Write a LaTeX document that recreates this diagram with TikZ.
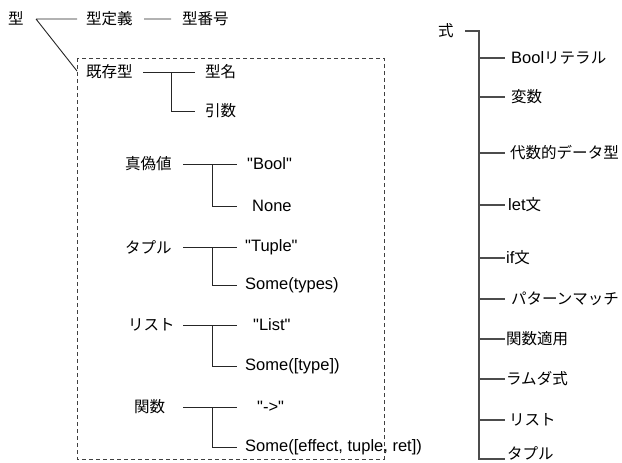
\documentclass[tikz,border=0pt]{standalone}
\usepackage{fontspec}
\setmainfont{Liberation Sans}
\newfontfamily\jp{Noto Sans CJK JP}[Scale=0.94]
\newcommand{\qq}{\textquotedbl}
\begin{document}
\begin{tikzpicture}[x=1pt,y=-1pt,
  lbl/.style={anchor=west,inner sep=0pt,font=\fontsize{16.5}{19}\selectfont},
  ln/.style={line width=0.9pt,draw=black!85},
  rln/.style={line width=1.3pt,draw=black!70},
  dbox/.style={line width=1pt,draw=black!75,dash pattern=on 4pt off 3pt}]
\useasboundingbox (0,0) rectangle (622,463);
% left: type tree
\node[lbl] (kata) at (8,18) {\jp 型};
\node[lbl] (teigi) at (86,19) {\jp 型定義};
\node[lbl] (bango) at (182,19) {\jp 型番号};
\node[lbl] (kiso) at (86,72) {\jp 既存型};
\node[lbl] (mei) at (205,72) {\jp 型名};
\node[lbl] (hiki) at (205,111) {\jp 引数};
\coordinate (k0) at (36,19);
\coordinate (k1) at (77,19);
\coordinate (k2) at (77,71);
\coordinate (t1) at (144,19);
\coordinate (t2) at (171,19);
\draw[ln] (k0) -- (k1) (k0) -- (k2) (t1) -- (t2);
\coordinate (e1) at (143,72);
\coordinate (e2) at (195,72);
\coordinate (e3) at (171,72);
\coordinate (e4) at (195,111);
\draw[ln] (e1) -- (e2) (e3) |- (e4);
% dashed box
\coordinate (bx1) at (77,58);
\coordinate (bx2) at (384,459);
\draw[dbox] (bx1) rectangle (bx2);
% groups
\node[lbl] (shingi) at (125,164) {\jp 真偽値};
\node[lbl] (bool) at (247,164) {\qq Bool\qq};
\node[lbl] (none) at (252,206) {None};
\node[lbl] (tapuru) at (125,247) {\jp タプル};
\node[lbl] (tuple) at (245,247) {\qq Tuple\qq};
\node[lbl] (sometypes) at (245,285) {Some(types)};
\node[lbl] (risuto) at (128,325) {\jp リスト};
\node[lbl] (list) at (253,325) {\qq List\qq};
\node[lbl] (sometype) at (245,366) {Some([type])};
\node[lbl] (kansu) at (134,407) {\jp 関数};
\node[lbl] (arrow) at (257,407) {\qq->\qq};
\node[lbl] (somefn) at (245,447) {Some([effect, tuple, ret])};
\foreach \n/\ya/\yb in {a/164/206, b/247/285, c/325/366, d/407/447}{
  \coordinate (\n1) at (183,\ya);
  \coordinate (\n2) at (237,\ya);
  \coordinate (\n3) at (212,\ya);
  \coordinate (\n4) at (237,\yb);
  \draw[ln] (\n1) -- (\n2) (\n3) |- (\n4);
}
% right: expression tree
\node[lbl] (shiki) at (438,31) {\jp 式};
\coordinate (s0) at (465,31);
\coordinate (s1) at (479,31);
\coordinate (s2) at (479,459);
\coordinate (s3) at (505,459);
\draw[rln] (s0) -- (s1) -- (s2) -- (s3);
\node[lbl] (r1) at (511,58) {Bool{\jp リテラル}};
\node[lbl] (r2) at (511,97) {\jp 変数};
\node[lbl] (r3) at (510,153) {\jp 代数的データ型};
\node[lbl] (r4) at (508,205) {let{\jp 文}};
\node[lbl] (r5) at (506,258) {if{\jp 文}};
\node[lbl] (r6) at (511,299) {\jp パターンマッチ};
\node[lbl] (r7) at (506,339) {\jp 関数適用};
\node[lbl] (r8) at (506,379) {\jp ラムダ式};
\node[lbl] (r9) at (509,420) {\jp リスト};
\node[lbl] (r10) at (507,453) {\jp タプル};
\foreach \y in {58,97,153,205,258,299,339,379,420}{
  \draw[rln] (479,\y) -- (505,\y);
}
\end{tikzpicture}
\end{document}
